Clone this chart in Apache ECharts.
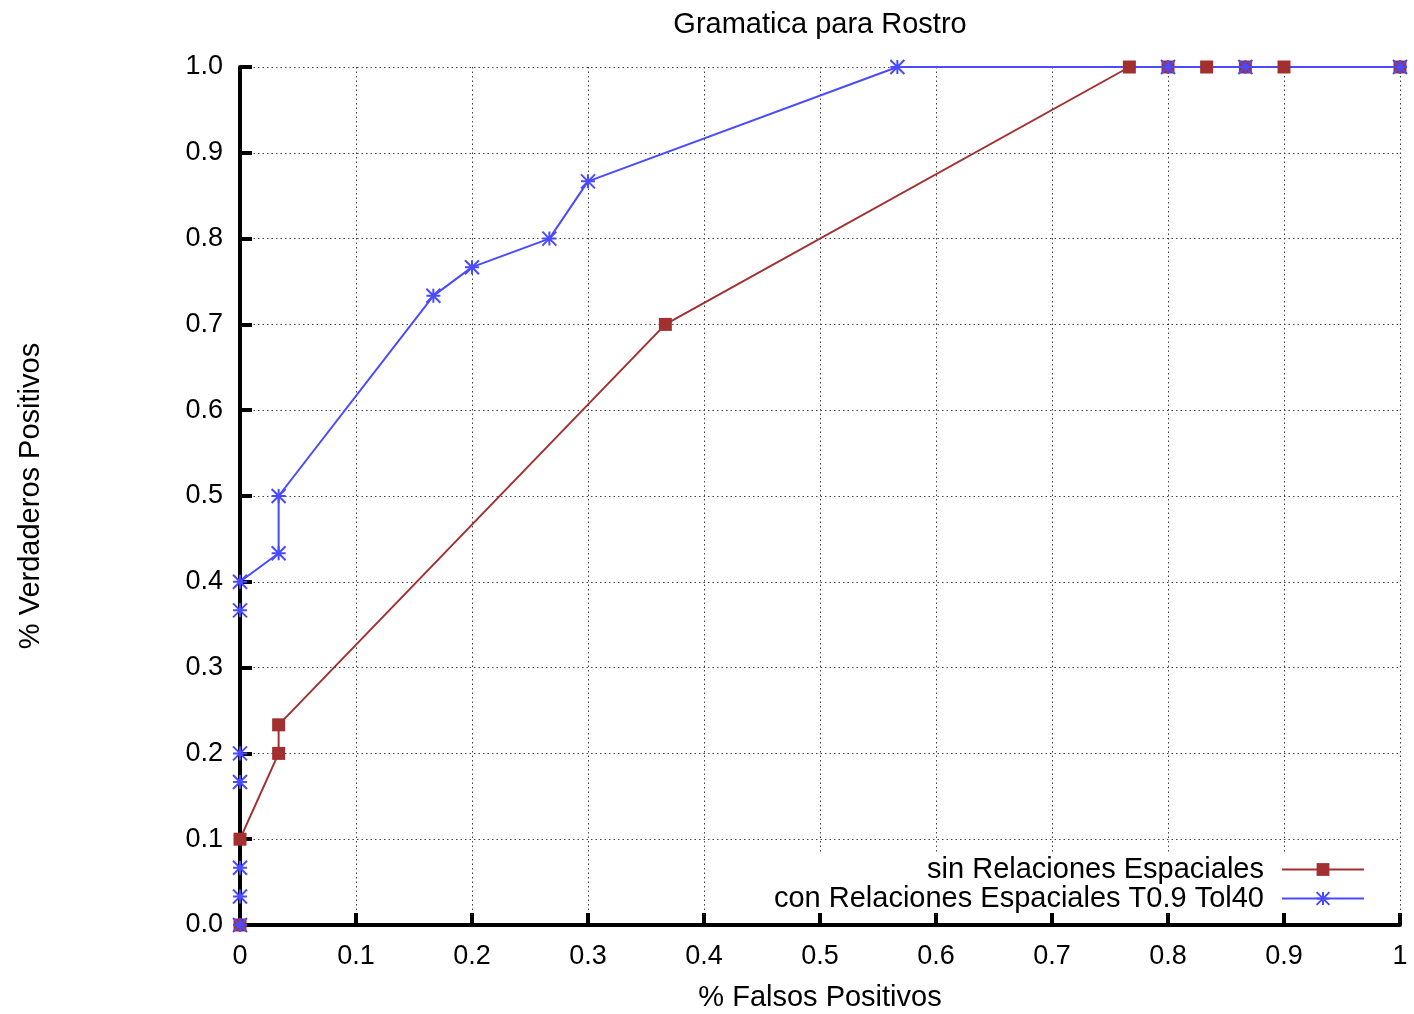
<!DOCTYPE html>
<html>
<head>
<meta charset="utf-8">
<script src="https://cdn.jsdelivr.net/npm/echarts@6/dist/echarts.min.js"></script>
<style>
  html, body { margin: 0; padding: 0; background: #fff; }
  #chart { width: 1414px; height: 1014px; }
</style>
</head>
<body>
<div id="chart"></div>
<script>
const chartTitle = 'Gramatica para Rostro';
const xName = '% Falsos Positivos';
const yName = '% Verdaderos Positivos';
const seriesNames = ['sin Relaciones Espaciales', 'con Relaciones Espaciales T0.9 Tol40'];

// sin Relaciones Espaciales
const fpSin = [0, 0, 0.0333, 0.0333, 0.3667, 0.7667, 0.8, 0.8333, 0.8667, 0.9, 1];
const tpSin = [0, 0.1, 0.2, 0.2333, 0.7, 1, 1, 1, 1, 1, 1];

// con Relaciones Espaciales T0.9 Tol40
const fpCon = [0, 0, 0, 0, 0, 0, 0, 0.0333, 0.0333, 0.1667, 0.2, 0.2667, 0.3, 0.5667, 0.8, 0.8667, 1];
const tpCon = [0, 0.0333, 0.0667, 0.1667, 0.2, 0.3667, 0.4, 0.4333, 0.5, 0.7333, 0.7667, 0.8, 0.8667, 1, 1, 1, 1];

const xTicks = [0, 0.1, 0.2, 0.3, 0.4, 0.5, 0.6, 0.7, 0.8, 0.9, 1];
const xTickLabels = ['0', '0.1', '0.2', '0.3', '0.4', '0.5', '0.6', '0.7', '0.8', '0.9', '1'];
const yTickLabels = ['0.0', '0.1', '0.2', '0.3', '0.4', '0.5', '0.6', '0.7', '0.8', '0.9', '1.0'];

const RED = '#a33030';
const BLUE = '#4a4aff';
const FONT = 'Liberation Sans, Arial, Helvetica, sans-serif';
const ASTERISK = 'path://M0,-1L0,1M-1,0L1,0M-1,-1L1,1M-1,1L1,-1';

const pairs = (xs, ys) => xs.map((x, i) => [x, ys[i]]);
const labelFor = (ticks, labels) => (v) => {
  for (let i = 0; i < ticks.length; i++) if (Math.abs(ticks[i] - v) < 1e-6) return labels[i];
  return '';
};

const chart = echarts.init(document.getElementById('chart'), null, { renderer: 'canvas' });

const backAxisCommon = {
  type: 'value', min: 0, max: 1, interval: 0.1, z: 0,
  axisLine: { show: false }, axisTick: { show: false }, axisLabel: { show: false },
  splitLine: { show: true, lineStyle: { color: '#444', width: 1, type: [1.5, 3] } }
};
const frontAxisCommon = {
  type: 'value', min: 0, max: 1, interval: 0.1, z: 5,
  axisLine: { show: true, onZero: false, lineStyle: { color: '#000', width: 4 } },
  axisTick: { show: true, inside: true, length: 12, lineStyle: { color: '#000', width: 4 } },
  splitLine: { show: false },
  nameLocation: 'middle',
  nameTextStyle: { fontFamily: FONT, fontSize: 29, color: '#000' }
};

chart.setOption({
  animation: false,
  backgroundColor: '#fff',
  title: {
    text: chartTitle, left: 820, top: 10, textAlign: 'center',
    padding: 0,
    textStyle: { fontFamily: FONT, fontSize: 29, fontWeight: 'normal', color: '#000' }
  },
  grid: { left: 240, right: 14, top: 67, bottom: 89, containLabel: false, outerBoundsMode: 'none' },
  legend: {
    orient: 'vertical', align: 'right', right: 19, top: 853,
    padding: [2, 30, 6, 10], backgroundColor: '#fff',
    itemWidth: 82, itemHeight: 16, itemGap: 0,
    textStyle: { fontFamily: FONT, fontSize: 29, color: '#000', padding: [0, 13, 0, 0] },
    data: [
      { name: seriesNames[0], itemStyle: { color: RED, borderWidth: 0 } },
      { name: seriesNames[1], itemStyle: { color: BLUE, borderColor: BLUE, borderWidth: 2 } }
    ],
    selectedMode: false
  },
  xAxis: [
    Object.assign({}, backAxisCommon, { position: 'bottom' }),
    Object.assign({}, frontAxisCommon, {
      position: 'bottom', name: xName, nameGap: 58,
      axisLabel: { show: true, margin: 18, fontFamily: FONT, fontSize: 27, color: '#000',
        formatter: labelFor(xTicks, xTickLabels) }
    })
  ],
  yAxis: [
    Object.assign({}, backAxisCommon, { position: 'left' }),
    Object.assign({}, frontAxisCommon, {
      position: 'left', name: yName, nameGap: 195,
      axisLabel: { show: true, margin: 17, fontFamily: FONT, fontSize: 27, color: '#000',
        formatter: labelFor(xTicks, yTickLabels) }
    })
  ],
  series: [
    {
      name: seriesNames[0], type: 'line', xAxisIndex: 0, yAxisIndex: 0, z: 2,
      data: pairs(fpSin, tpSin), symbol: 'rect', showSymbol: false, silent: true,
      lineStyle: { color: RED, width: 2 }, itemStyle: { color: RED }, clip: false
    },
    {
      name: seriesNames[1], type: 'line', xAxisIndex: 0, yAxisIndex: 0, z: 2,
      data: pairs(fpCon, tpCon), symbol: ASTERISK, showSymbol: false, silent: true,
      lineStyle: { color: BLUE, width: 2 }, itemStyle: { color: BLUE, borderColor: BLUE, borderWidth: 2 }, clip: false
    },
    {
      name: seriesNames[0], type: 'scatter', xAxisIndex: 0, yAxisIndex: 0, z: 8,
      data: pairs(fpSin, tpSin), symbol: 'rect', symbolSize: 13, silent: true, clip: false,
      itemStyle: { color: RED, opacity: 1 }
    },
    {
      name: seriesNames[1], type: 'scatter', xAxisIndex: 0, yAxisIndex: 0, z: 8,
      data: pairs(fpCon, tpCon), symbol: ASTERISK, symbolSize: 14, silent: true, clip: false,
      itemStyle: { color: BLUE, borderColor: BLUE, borderWidth: 2, opacity: 1 }
    }
  ]
});
</script>
</body>
</html>
